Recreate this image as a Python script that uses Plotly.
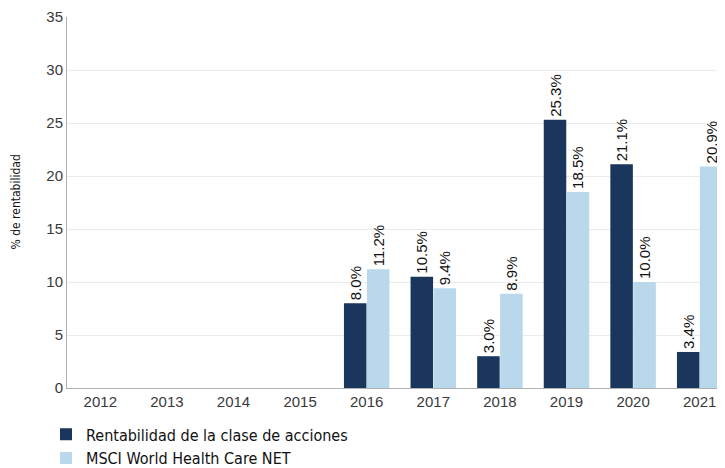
import plotly.graph_objects as go

years = ["2012", "2013", "2014", "2015", "2016", "2017", "2018", "2019", "2020", "2021"]
fund = [None, None, None, None, 8.0, 10.5, 3.0, 25.3, 21.1, 3.4]
index = [None, None, None, None, 11.2, 9.4, 8.9, 18.5, 10.0, 20.9]
fund_name = "Rentabilidad de la clase de acciones"
index_name = "MSCI World Health Care NET"
y_title = "% de rentabilidad"

dark = "#1b365d"
light = "#b9d8ec"
narrow = "DejaVu Sans Condensed, Liberation Sans Narrow, sans-serif"

fig = go.Figure()
for name, vals, col in [(fund_name, fund, dark), (index_name, index, light)]:
    fig.add_trace(go.Bar(
        x=years, y=vals, name=name, marker=dict(color=col, line=dict(width=0)),
        texttemplate="%{y:.1f}%", textposition="outside", textangle=-90,
        textfont=dict(family="Liberation Sans, Arial, sans-serif", size=15, color="#111"),
        cliponaxis=False, constraintext="none",
    ))

fig.add_annotation(
    text=y_title, textangle=-90, xref="paper", yref="paper",
    x=-0.079, y=0.5, xanchor="center", yanchor="middle", showarrow=False,
    font=dict(family=narrow, size=12, color="#111"),
)

fig.update_layout(
    width=717, height=460,
    margin=dict(l=59, r=0, t=9, b=80, autoexpand=False),
    paper_bgcolor="white", plot_bgcolor="white",
    barmode="group", bargap=0.31, bargroupgap=0.02,
    font=dict(family="Liberation Sans, Arial, sans-serif", color="#444"),
    xaxis=dict(
        range=[-0.5, 9.38], showline=True, linecolor="#b0b0b0", linewidth=1,
        tickfont=dict(size=15, color="#3a3a3a"), ticks="", showgrid=False, tickangle=0,
        automargin=False,
    ),
    yaxis=dict(
        range=[0, 35], dtick=5, showline=True, linecolor="#b0b0b0", linewidth=1,
        gridcolor="#ebebeb", gridwidth=1, zeroline=False,
        tickfont=dict(size=15, color="#3a3a3a"), ticks="", ticklen=0,
        automargin=False,
    ),
    legend=dict(
        orientation="v", xref="container", yref="container", x=0.053, y=0.11,
        xanchor="left", yanchor="top",
        font=dict(family=narrow, size=16, color="#111"),
        tracegroupgap=0, itemwidth=30, traceorder="normal",
    ),
)

fig.write_html("out.html")
